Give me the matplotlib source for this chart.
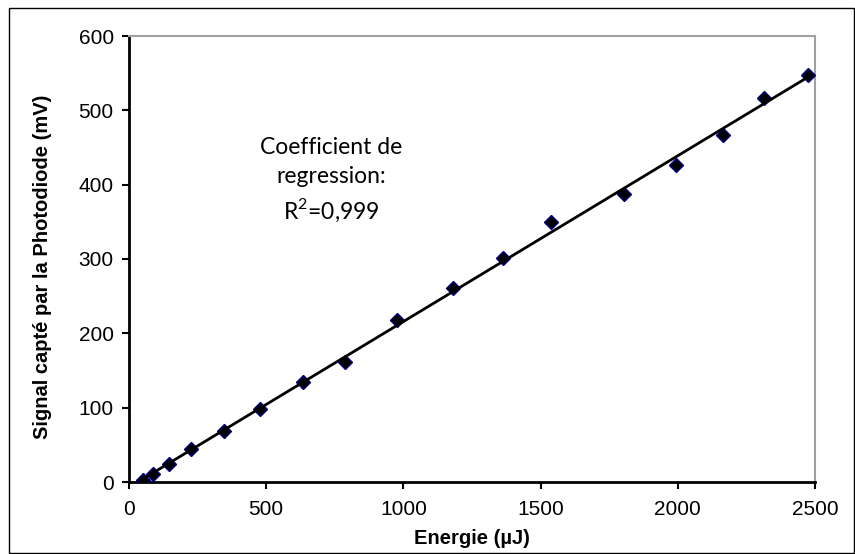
import numpy as np
import matplotlib
matplotlib.use("Agg")
from matplotlib import pyplot as plt
from matplotlib.patches import Rectangle

# energy (uJ) and photodiode signal (mV)
energie = [52, 86, 147, 226, 346, 479, 635, 787, 976, 1182, 1364, 1538,
           1804, 1995, 2165, 2314, 2476]
signal = [2.7, 10.8, 23.8, 45, 69, 98.6, 134.6, 162, 218, 260.7, 301, 350,
          387, 426, 467, 516, 548]

x_ticks = [0, 500, 1000, 1500, 2000, 2500]
y_ticks = [0, 100, 200, 300, 400, 500, 600]

plt.rcParams['font.family'] = ['Liberation Sans', 'DejaVu Sans']

fig = plt.figure(figsize=(8.55, 5.54), dpi=100)
ax = fig.add_axes([129/855, 1-482/554, (815-129)/855, (482-36)/554])

# linear trendline over the measured range
coef = np.polyfit(energie, signal, 1)
xs = np.array([min(energie), max(energie)])
ax.plot(energie, signal, linestyle='none', marker='D', markersize=7.5,
        markerfacecolor='black', markeredgecolor='#000080',
        markeredgewidth=1.0, zorder=3)
ax.plot(xs, np.polyval(coef, xs), color='black', linewidth=2.0, zorder=4)

ax.set_xlim(0, 2500)
ax.set_ylim(0, 600)
ax.set_xticks(x_ticks)
ax.set_yticks(y_ticks)
ax.tick_params(direction='out', length=5, width=1.5, labelsize=15)
ax.tick_params(axis='x', pad=8)
ax.tick_params(axis='y', pad=6)

for side in ['left', 'bottom']:
    ax.spines[side].set_linewidth(2.0)
    ax.spines[side].set_color('black')
for side in ['top', 'right']:
    ax.spines[side].set_linewidth(1.5)
    ax.spines[side].set_color('#a0a0a0')

ax.set_xlabel('Energie (µJ)', fontsize=14.5, fontweight='bold')
ax.set_ylabel('Signal capté par la Photodiode (mV)', fontsize=14.5,
              fontweight='bold')
ax.xaxis.set_label_coords(0.5, -0.105)
ax.yaxis.set_label_coords(-0.112, 0.483)

ax.text(0.295, 0.675, 'Coefficient de\nregression:\nR$^\\mathregular{2}$=0,999',
        transform=ax.transAxes, ha='center', va='center', fontsize=16.5,
        family=['Lato', 'DejaVu Sans'], linespacing=1.45)

# outer frame of the chart area
fig.patches.append(Rectangle((9/855, 1/554), 845/855, 545/554,
                             transform=fig.transFigure, fill=False,
                             edgecolor='black', linewidth=1.0))

fig.savefig('out.png', dpi=100)
